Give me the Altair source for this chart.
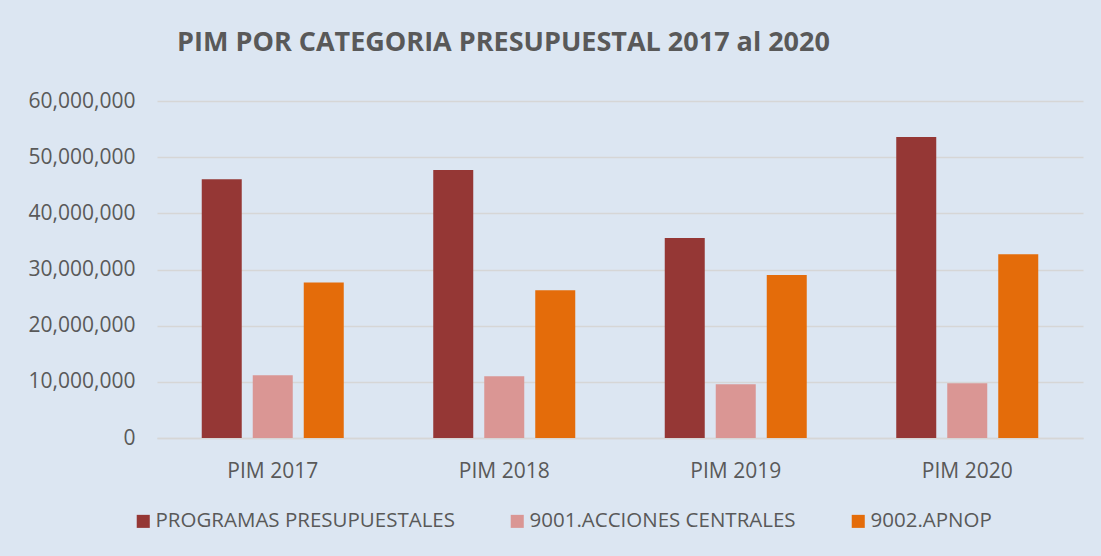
import altair as alt
import pandas as pd

categories = ["PIM 2017", "PIM 2018", "PIM 2019", "PIM 2020"]
series_names = ["PROGRAMAS PRESUPUESTALES", "9001.ACCIONES CENTRALES", "9002.APNOP"]
programas = [46050000, 47700000, 35600000, 53600000]
acciones = [11150000, 10980000, 9560000, 9740000]
apnop = [27700000, 26300000, 29000000, 32700000]
colors = ["#953735", "#DA9694", "#E46C0A"]
y_ticks = [0, 10000000, 20000000, 30000000, 40000000, 50000000, 60000000]

rows = []
for name, vals in zip(series_names, [programas, acciones, apnop]):
    for c, v in zip(categories, vals):
        rows.append({"categoria": c, "serie": name, "valor": v})
df = pd.DataFrame(rows)

FONT = "Open Sans"
TXT = "#595959"

chart = alt.Chart(df).mark_bar().encode(
    x=alt.X("categoria:N", sort=categories, title=None,
            scale=alt.Scale(paddingInner=0.3866, paddingOuter=0.1933),
            axis=alt.Axis(labelAngle=0, labelFont=FONT, labelFontSize=21, labelColor=TXT,
                          labelPadding=22, ticks=False, domain=True, domainColor="#D6D6D6",
                          domainWidth=1.5, grid=False)),
    xOffset=alt.XOffset("serie:N", sort=series_names,
                        scale=alt.Scale(paddingInner=0.2157, paddingOuter=0)),
    y=alt.Y("valor:Q", title=None,
            scale=alt.Scale(domain=[0, 60000000], nice=False),
            axis=alt.Axis(values=y_ticks, format=",d", labelFont=FONT, labelFontSize=21,
                          labelColor=TXT, labelPadding=22, ticks=False, domain=False,
                          grid=True, gridColor="#D6D6D6", gridWidth=1.5)),
    color=alt.Color("serie:N", sort=series_names,
                    scale=alt.Scale(domain=series_names, range=colors),
                    legend=alt.Legend(title=None, orient="none", direction="horizontal",
                                      columns=3, legendX=-24, legendY=410,
                                      symbolType="square", symbolSize=170,
                                      symbolStrokeWidth=0, labelFont=FONT,
                                      labelFontSize=20.5, labelColor=TXT, labelOffset=2,
                                      columnPadding=52, labelLimit=0)),
).properties(
    width=926,
    height=337,
    title=alt.TitleParams(
        "PIM POR CATEGORIA PRESUPUESTAL 2017 al 2020",
        anchor="start", dx=149, offset=33, font=FONT, fontSize=27,
        fontWeight="bold", color=TXT,
    ),
    padding={"left": 157, "top": 101, "right": 18, "bottom": 118},
    autosize=alt.AutoSizeParams(type="none"),
    background="#DCE6F2",
).configure_view(stroke=None)

chart.save("out.html", embed_options={"renderer": "svg", "actions": False})
